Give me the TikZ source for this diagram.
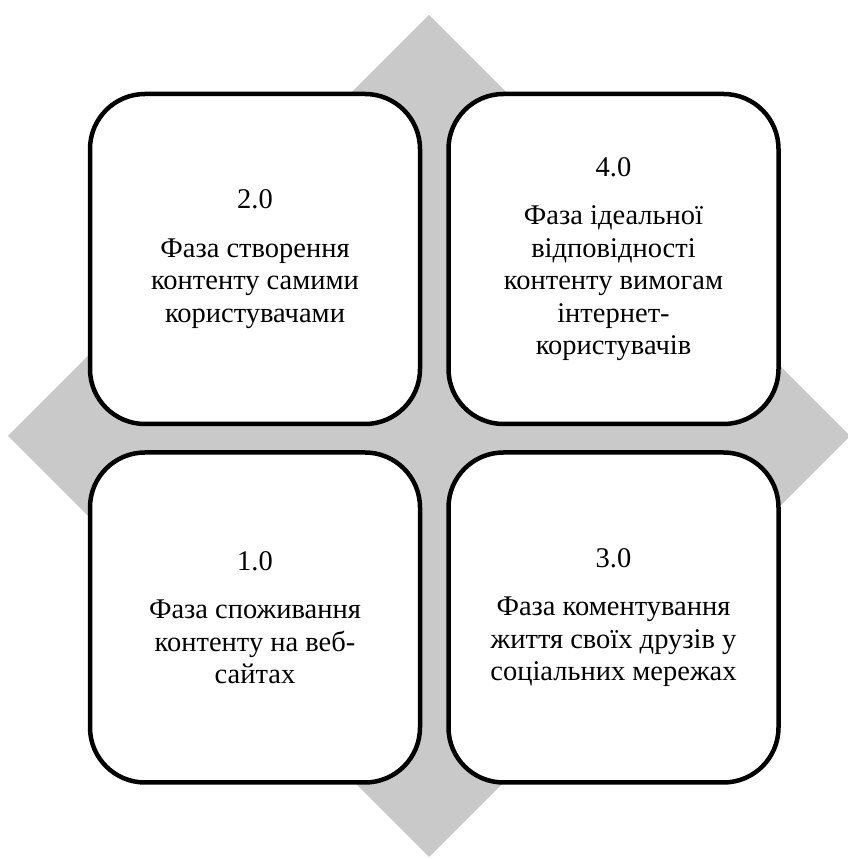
\documentclass[tikz,border=0pt]{standalone}
\usepackage{fontspec}
\setmainfont{Liberation Serif}
\usetikzlibrary{positioning}
\definecolor{diamondgray}{HTML}{C9C9C9}
\tikzset{
  phase/.style={draw=black, line width=4.5pt, rounded corners=55pt, fill=white,
                minimum width=330pt, minimum height=330pt, inner sep=0pt,
                align=center, font=\fontsize{28.5}{32.5}\selectfont}
}
\begin{document}
\begin{tikzpicture}[x=1pt, y=1pt, node distance=24pt]
  \useasboundingbox (0,0) rectangle (848,859);
  \clip (0,0) rectangle (848,859);
  % grey diamond behind the four phases
  \fill[diamondgray] (8,423) -- (429,844) -- (850,423) -- (429,2) -- cycle;
  \node[phase] (web2) at (255,600) {2.0\\[16pt]Фаза створення\\контенту самими\\користувачами};
  \node[phase, right=of web2] (web4) {4.0\\[16pt]Фаза ідеальної\\відповідності\\контенту вимогам\\інтернет-\\користувачів};
  \node[phase, below=of web2] (web1) {1.0\\[16pt]Фаза споживання\\контенту на веб-\\сайтах};
  \node[phase, below=of web4] (web3) {3.0\\[16pt]Фаза коментування\\життя своїх друзів у\\соціальних мережах};
\end{tikzpicture}
\end{document}
